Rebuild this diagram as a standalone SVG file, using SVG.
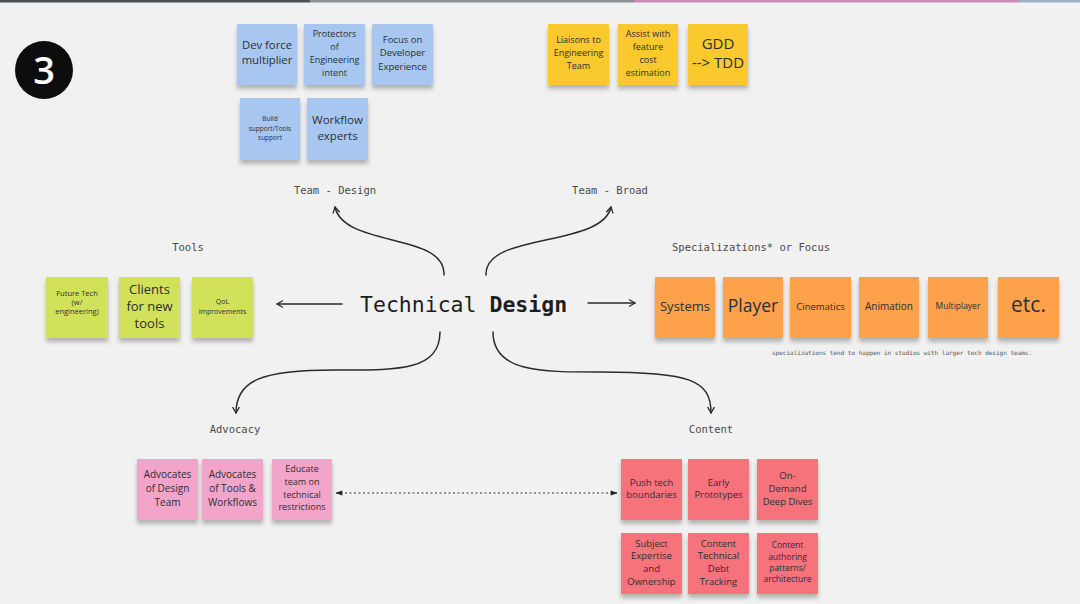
<svg xmlns="http://www.w3.org/2000/svg" width="1080" height="604" viewBox="0 0 1080 604">
<defs>
<style>
.bg{fill:#f1f1f1}
.lbl{font-family:"DejaVu Sans Mono","Liberation Mono",monospace;font-size:10.5px;fill:#4a4a4a;text-anchor:middle}
.st text{font-family:"Open Sans","Noto Sans",sans-serif;text-anchor:middle;fill:#2c2f36}
.blue{fill:#a7c7f0}
.yel{fill:#f9c92f}
.grn{fill:#d1e15a}
.org{fill:#fda24b}
.pnk{fill:#f3a4c9}
.red{fill:#f6737c}
.con{fill:none;stroke:#2b2b2b;stroke-width:1.5;stroke-linecap:round}
.dot{fill:none;stroke:#333;stroke-width:1;stroke-dasharray:2 2.5}
</style>
<filter id="sh" x="-20%" y="-20%" width="140%" height="150%">
<feDropShadow dx="0" dy="4" stdDeviation="2.2" flood-color="#000" flood-opacity="0.26"/>
</filter>
<marker id="ah" viewBox="0 0 10 10" refX="8" refY="5" markerWidth="8" markerHeight="8" orient="auto-start-reverse" markerUnits="userSpaceOnUse">
<path d="M1,1 L8,5 L1,9" fill="none" stroke="#2b2b2b" stroke-width="1.6" stroke-linecap="round" stroke-linejoin="round"/>
</marker>
<marker id="tri" viewBox="0 0 10 10" refX="9" refY="5" markerWidth="9" markerHeight="7" orient="auto-start-reverse" markerUnits="userSpaceOnUse">
<path d="M0,1.5 L10,5 L0,8.5 Z" fill="#222"/>
</marker>
</defs>
<rect class="bg" x="0" y="0" width="1080" height="604"/>
<g id="topbar">
<rect x="0" y="0" width="310" height="2.5" fill="#4b5057"/>
<rect x="310" y="0" width="324" height="2.5" fill="#8d9196"/>
<rect x="634" y="0" width="385" height="2.5" fill="#c98bb8"/>
<rect x="1019" y="0" width="61" height="2.5" fill="#9fb0c8"/>
</g>
<g id="badge">
<circle cx="44" cy="70" r="29" fill="#0d0d0d"/>
<text x="44" y="83.5" font-family="Open Sans,Noto Sans,sans-serif" font-size="38" font-weight="600" fill="#fff" text-anchor="middle">3</text>
</g>

<g id="connectors">
<path class="con" d="M444,275 C446,232 344,248 335,207" marker-end="url(#ah)"/>
<path class="con" d="M486,275 C484,232 602,248 611,207" marker-end="url(#ah)"/>
<path class="con" d="M342,304 L277,304" marker-end="url(#ah)"/>
<path class="con" d="M588,303 L635,303" marker-end="url(#ah)"/>
<path class="con" d="M440,332 C440,372 395,370 335,370 C262,370 236,380 236,413" marker-end="url(#ah)"/>
<path class="con" d="M493,332 C493,372 540,372 600,372 C690,372 711,380 711,413" marker-end="url(#ah)"/>
<path class="dot" d="M336,493 L617,493" marker-start="url(#tri)" marker-end="url(#tri)"/>
</g>

<g id="center">
<text x="360" y="312" font-family="DejaVu Sans Mono,Liberation Mono,monospace" font-size="21.5" fill="#1e1e1e">Technical <tspan font-weight="bold">Design</tspan></text>
</g>

<g id="labels">
<text class="lbl" x="335" y="194">Team - Design</text>
<text class="lbl" x="610" y="194">Team - Broad</text>
<text class="lbl" x="188" y="251">Tools</text>
<text class="lbl" x="672" y="251" style="text-anchor:start">Specializations* or Focus</text>
<text class="lbl" x="235" y="433">Advocacy</text>
<text class="lbl" x="711" y="433">Content</text>
<text x="772" y="355" font-family="DejaVu Sans Mono,Liberation Mono,monospace" font-size="6" fill="#555">specializations tend to happen in studios with larger tech design teams.</text>
</g>

<!-- Team - Design (blue) -->
<g id="dev-force" class="st"><rect class="blue" x="237" y="24" width="60" height="61" filter="url(#sh)"/>
<text font-size="11.3"><tspan x="267" y="49">Dev force</tspan><tspan x="267" y="64">multiplier</tspan></text></g>
<g id="protectors" class="st"><rect class="blue" x="304" y="24" width="61" height="61" filter="url(#sh)"/>
<text font-size="9"><tspan x="334.5" y="36.5">Protectors</tspan><tspan x="334.5" y="49.5">of</tspan><tspan x="334.5" y="62.5">Engineering</tspan><tspan x="334.5" y="75.5">intent</tspan></text></g>
<g id="focus-dx" class="st"><rect class="blue" x="372" y="24" width="61" height="61" filter="url(#sh)"/>
<text font-size="9.5"><tspan x="402.5" y="42.5">Focus on</tspan><tspan x="402.5" y="56">Developer</tspan><tspan x="402.5" y="69.5">Experience</tspan></text></g>
<g id="build-support" class="st"><rect class="blue" x="240" y="98" width="60" height="62" filter="url(#sh)"/>
<text font-size="6.5"><tspan x="270" y="120.5">Build</tspan><tspan x="270" y="130.5">support/Tools</tspan><tspan x="270" y="140">support</tspan></text></g>
<g id="workflow-experts" class="st"><rect class="blue" x="307" y="98" width="61" height="62" filter="url(#sh)"/>
<text font-size="11.5"><tspan x="337.5" y="123.5">Workflow</tspan><tspan x="337.5" y="139.5">experts</tspan></text></g>

<!-- Team - Broad (yellow) -->
<g id="liaisons" class="st"><rect class="yel" x="548" y="24" width="61" height="61" filter="url(#sh)"/>
<text font-size="9"><tspan x="578.5" y="43">Liaisons to</tspan><tspan x="578.5" y="56">Engineering</tspan><tspan x="578.5" y="68.5">Team</tspan></text></g>
<g id="assist-cost" class="st"><rect class="yel" x="618" y="24" width="60" height="61" filter="url(#sh)"/>
<text font-size="9"><tspan x="648" y="36.5">Assist with</tspan><tspan x="648" y="49.5">feature</tspan><tspan x="648" y="62.5">cost</tspan><tspan x="648" y="75.5">estimation</tspan></text></g>
<g id="gdd-tdd" class="st"><rect class="yel" x="688" y="24" width="60" height="61" filter="url(#sh)"/>
<text font-size="15"><tspan x="718" y="48.5">GDD</tspan><tspan x="718" y="67.5">--&gt; TDD</tspan></text></g>

<!-- Tools (green) -->
<g id="future-tech" class="st"><rect class="grn" x="46" y="277" width="62" height="61" filter="url(#sh)"/>
<text font-size="7.5"><tspan x="77" y="296">Future Tech</tspan><tspan x="77" y="305">(w/</tspan><tspan x="77" y="314">engineering)</tspan></text></g>
<g id="clients-tools" class="st"><rect class="grn" x="119" y="277" width="61" height="61" filter="url(#sh)"/>
<text font-size="13"><tspan x="149.5" y="294">Clients</tspan><tspan x="149.5" y="311">for new</tspan><tspan x="149.5" y="328">tools</tspan></text></g>
<g id="qol" class="st"><rect class="grn" x="192" y="277" width="61" height="61" filter="url(#sh)"/>
<text font-size="7"><tspan x="222.5" y="303.5">QoL</tspan><tspan x="222.5" y="313.5">improvements</tspan></text></g>

<!-- Specializations (orange) -->
<g id="systems" class="st"><rect class="org" x="655" y="277" width="60" height="61" filter="url(#sh)"/>
<text font-size="13" x="685" y="310.5">Systems</text></g>
<g id="player" class="st"><rect class="org" x="723" y="277" width="60" height="61" filter="url(#sh)"/>
<text font-size="17.5" x="753" y="312">Player</text></g>
<g id="cinematics" class="st"><rect class="org" x="790" y="277" width="61" height="61" filter="url(#sh)"/>
<text font-size="9.5" x="820.5" y="309.5">Cinematics</text></g>
<g id="animation" class="st"><rect class="org" x="859" y="277" width="60" height="61" filter="url(#sh)"/>
<text font-size="10" x="889" y="309.5">Animation</text></g>
<g id="multiplayer" class="st"><rect class="org" x="928" y="277" width="60" height="61" filter="url(#sh)"/>
<text font-size="8.5" x="958" y="309">Multiplayer</text></g>
<g id="etc" class="st"><rect class="org" x="998" y="277" width="61" height="61" filter="url(#sh)"/>
<text font-size="21" x="1028.5" y="312">etc.</text></g>

<!-- Advocacy (pink) -->
<g id="adv-design" class="st"><rect class="pnk" x="137" y="459" width="61" height="61" filter="url(#sh)"/>
<text font-size="10"><tspan x="167.5" y="477.5">Advocates</tspan><tspan x="167.5" y="491.5">of Design</tspan><tspan x="167.5" y="505.5">Team</tspan></text></g>
<g id="adv-tools" class="st"><rect class="pnk" x="202" y="459" width="61" height="61" filter="url(#sh)"/>
<text font-size="10"><tspan x="232.5" y="477.5">Advocates</tspan><tspan x="232.5" y="491.5">of Tools &amp;</tspan><tspan x="232.5" y="505.5">Workflows</tspan></text></g>
<g id="educate" class="st"><rect class="pnk" x="272" y="459" width="60" height="61" filter="url(#sh)"/>
<text font-size="9"><tspan x="302" y="472">Educate</tspan><tspan x="302" y="485">team on</tspan><tspan x="302" y="497.5">technical</tspan><tspan x="302" y="510">restrictions</tspan></text></g>

<!-- Content (red) -->
<g id="push-tech" class="st"><rect class="red" x="621" y="459" width="61" height="61" filter="url(#sh)"/>
<text font-size="9.5"><tspan x="651.5" y="485.5">Push tech</tspan><tspan x="651.5" y="497.5">boundaries</tspan></text></g>
<g id="early-proto" class="st"><rect class="red" x="688" y="459" width="61" height="61" filter="url(#sh)"/>
<text font-size="9.5"><tspan x="718.5" y="485.5">Early</tspan><tspan x="718.5" y="497.5">Prototypes</tspan></text></g>
<g id="deep-dives" class="st"><rect class="red" x="757" y="459" width="61" height="61" filter="url(#sh)"/>
<text font-size="9.5"><tspan x="787.5" y="478.5">On-</tspan><tspan x="787.5" y="491.5">Demand</tspan><tspan x="787.5" y="504.5">Deep Dives</tspan></text></g>
<g id="expertise" class="st"><rect class="red" x="621" y="533" width="61" height="61" filter="url(#sh)"/>
<text font-size="9.5"><tspan x="651.5" y="546.5">Subject</tspan><tspan x="651.5" y="559">Expertise</tspan><tspan x="651.5" y="571.5">and</tspan><tspan x="651.5" y="584.5">Ownership</tspan></text></g>
<g id="tech-debt" class="st"><rect class="red" x="688" y="533" width="61" height="61" filter="url(#sh)"/>
<text font-size="9.5"><tspan x="718.5" y="546.5">Content</tspan><tspan x="718.5" y="559">Technical</tspan><tspan x="718.5" y="571.5">Debt</tspan><tspan x="718.5" y="584.5">Tracking</tspan></text></g>
<g id="authoring" class="st"><rect class="red" x="757" y="533" width="61" height="61" filter="url(#sh)"/>
<text font-size="8.5"><tspan x="787.5" y="548">Content</tspan><tspan x="787.5" y="560">authoring</tspan><tspan x="787.5" y="570.5">patterns/</tspan><tspan x="787.5" y="582">architecture</tspan></text></g>
</svg>
